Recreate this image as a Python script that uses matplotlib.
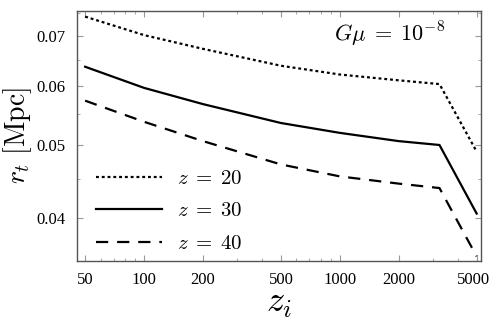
import matplotlib
matplotlib.use("Agg")
import matplotlib.pyplot as plt
import matplotlib.transforms as mtransforms
from matplotlib.ticker import FixedLocator, NullFormatter, MultipleLocator, LogLocator

# values (log-log)
zi = [50, 100, 200, 500, 1000, 2000, 3230, 5000]
rt_z20 = [0.0742, 0.0701, 0.0672, 0.0638, 0.0621, 0.0610, 0.0603, 0.0490]
rt_z30 = [0.0636, 0.0596, 0.0567, 0.0535, 0.0519, 0.0506, 0.0500, 0.0405]
rt_z40 = [0.0573, 0.0537, 0.0506, 0.0471, 0.0454, 0.0444, 0.0438, 0.0355]
labels = [r"$z\;=\;20$", r"$z\;=\;30$", r"$z\;=\;40$"]
xticks = [50, 100, 200, 500, 1000, 2000, 5000]
yticks = [0.04, 0.05, 0.06, 0.07]

plt.rcParams["mathtext.fontset"] = "cm"
plt.rcParams["font.family"] = ["Liberation Serif", "DejaVu Serif"]

fig = plt.figure(figsize=(4.9, 3.23), dpi=100)
ax = fig.add_axes([0.157, 0.192, 0.825, 0.774])

ax.plot(zi, rt_z20, color="black", lw=1.6, dashes=(1.3, 1.3), label=labels[0])
ax.plot(zi, rt_z30, color="black", lw=1.6, label=labels[1])
ax.plot(zi, rt_z40, color="black", lw=1.6, dashes=(5.5, 4.0), label=labels[2])

ax.set_xscale("log")
ax.set_yscale("log")
ax.set_xlim(45.4, 5275)
ax.set_ylim(0.0350, 0.0755)

ax.xaxis.set_major_locator(FixedLocator(xticks))
ax.set_xticklabels([str(t) for t in xticks])
ax.xaxis.set_minor_locator(LogLocator(base=10, subs=range(1, 10)))
ax.xaxis.set_minor_formatter(NullFormatter())
ax.yaxis.set_major_locator(FixedLocator(yticks))
ax.set_yticklabels([f"{t:.2f}" for t in yticks])
ax.yaxis.set_minor_locator(MultipleLocator(0.005))
ax.yaxis.set_minor_formatter(NullFormatter())

ax.tick_params(which="both", direction="in", top=True, right=True,
               color="#999999", labelsize=12, labelcolor="black")
ax.tick_params(which="major", length=4, width=0.8, pad=8)
ax.tick_params(which="minor", length=2, width=0.6)
for s in ax.spines.values():
    s.set_color("#555555")
    s.set_linewidth(1.0)

# keep the last x label inside the canvas
last = ax.get_xticklabels()[-1]
last.set_transform(last.get_transform() +
                   mtransforms.ScaledTranslation(-3 / 100, 0, fig.dpi_scale_trans))

ax.set_xlabel(r"$z_i$", fontsize=26, labelpad=-1)
ax.set_ylabel(r"$r_t\ [\mathrm{Mpc}]$", fontsize=20, labelpad=2)

ax.text(0.91, 0.905, r"$G\mu\;=\;10^{-8}$", transform=ax.transAxes,
        ha="right", va="center", fontsize=16)

ax.legend(loc="lower left", bbox_to_anchor=(0.0, -0.047), frameon=False,
          fontsize=15, handlelength=3.2, handletextpad=0.7, labelspacing=0.62,
          borderaxespad=0.5)

fig.savefig("out.png", dpi=100)
